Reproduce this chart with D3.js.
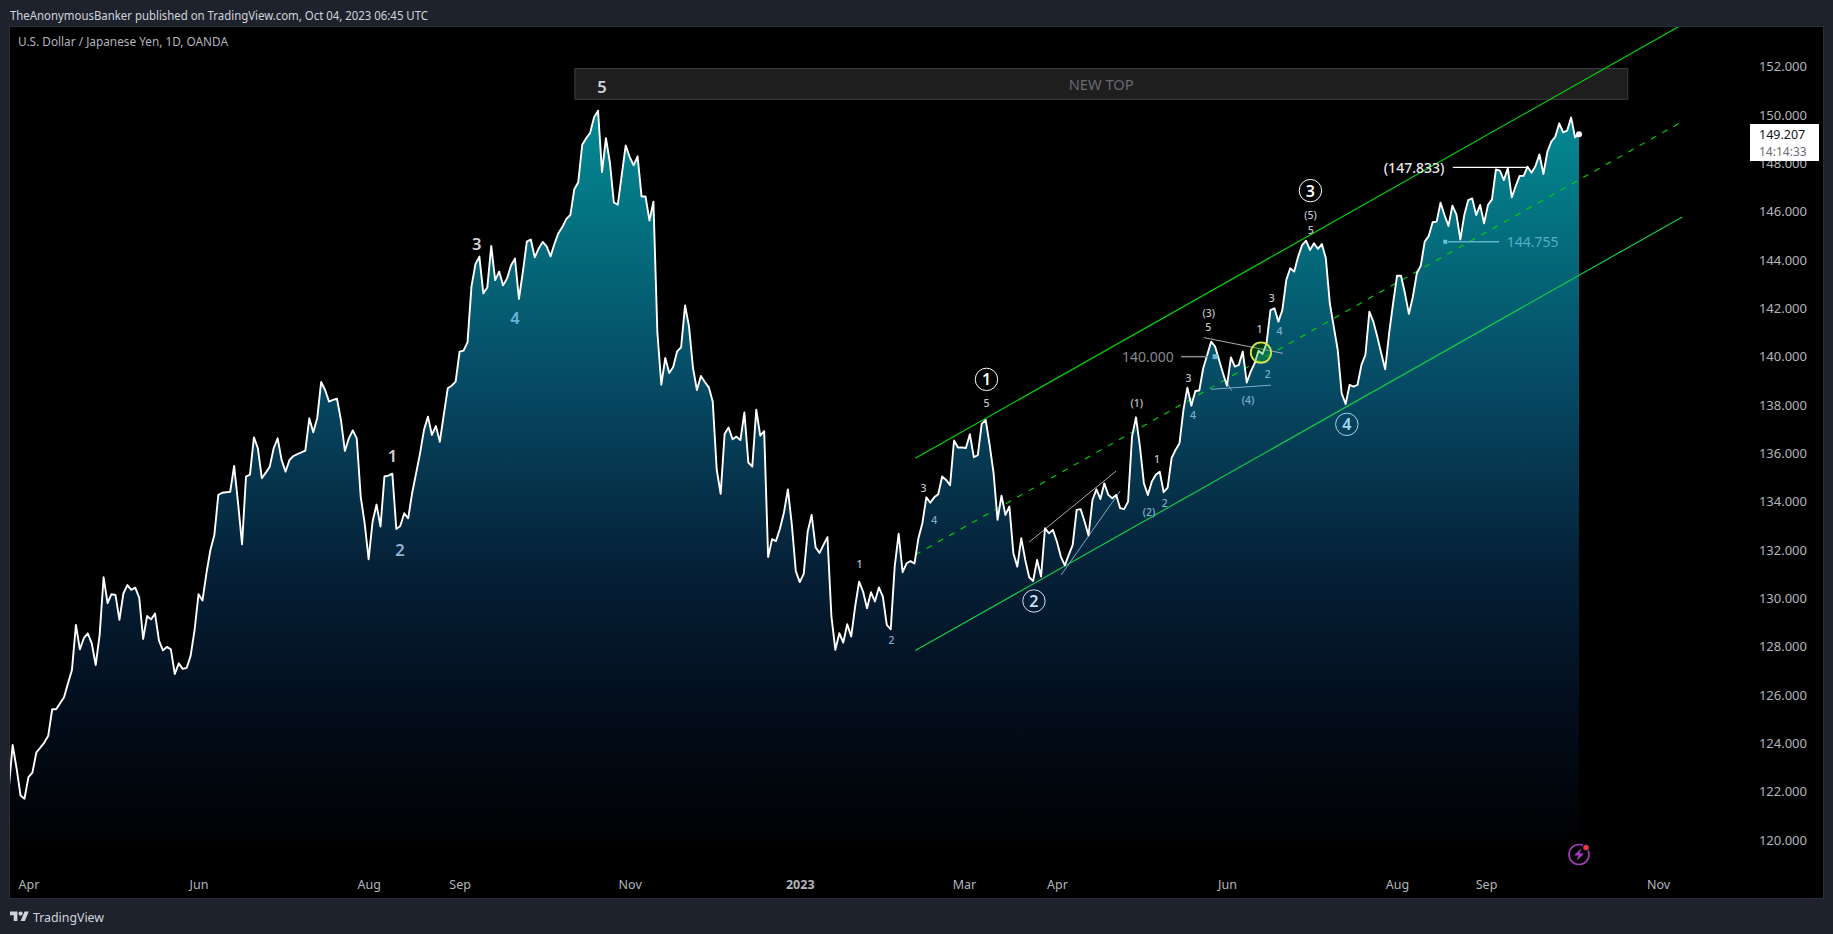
<!DOCTYPE html>
<html><head><meta charset="utf-8">
<script src="https://cdn.jsdelivr.net/npm/d3@7"></script>
<style>
html,body{margin:0;padding:0;background:#1e222d;overflow:hidden}
svg{display:block}
text{font-family:"Noto Sans",sans-serif}
</style></head><body>
<svg id="c" width="1833" height="934"></svg>
<script>
const closes=[
122.07,123.93,122.97,121.84,121.71,122.60,122.79,123.62,123.82,124.03,
124.31,125.41,125.41,125.66,125.91,126.49,127.04,128.90,127.89,128.35,
128.55,128.14,127.24,128.49,130.87,129.80,130.17,130.14,129.11,130.20,
130.55,130.35,130.44,130.03,128.32,129.27,129.13,129.37,128.25,127.85,
127.99,127.89,126.87,127.31,127.08,127.12,127.62,128.69,130.17,129.91,
131.04,132.00,132.62,134.28,134.37,134.39,134.41,135.48,133.93,132.24,
135.04,135.12,136.66,136.21,134.97,135.20,135.45,136.21,136.62,
135.73,135.24,135.73,135.89,135.97,136.04,136.11,137.45,136.87,137.45,
138.95,138.62,138.14,138.21,138.26,137.38,136.10,136.62,136.95,136.62,
134.21,133.10,131.62,133.17,133.88,132.97,135.04,135.08,135.16,132.87,
132.99,133.52,133.31,134.35,135.17,136.00,136.97,137.52,136.76,137.13,
136.48,137.59,138.69,138.80,138.97,140.21,140.25,140.59,142.90,143.83,
144.14,142.62,142.86,144.58,143.17,143.52,142.95,143.24,143.77,144.06,
142.39,143.52,144.76,144.85,144.11,144.48,
144.75,144.56,144.15,144.68,145.12,145.37,145.70,145.86,146.93,147.22,
148.77,149.04,149.26,149.91,150.18,147.64,149.04,148.03,146.38,146.29,
147.52,148.74,148.26,147.92,148.29,146.63,146.63,145.63,146.41,141.00,
138.84,139.95,139.32,139.57,140.22,140.39,142.12,141.24,139.54,138.62,
139.20,138.95,138.73,138.13,135.33,134.32,136.80,137.07,136.58,136.69,
136.55,137.69,135.62,135.45,137.81,136.73,136.92,131.71,132.45,132.37,
132.89,133.55,134.51,133.04,131.12,130.67,
131.01,132.76,133.45,132.11,131.88,132.21,132.53,129.25,127.87,128.56,
128.17,128.93,128.42,129.66,130.69,130.28,129.59,130.25,129.87,130.45,
130.07,128.90,128.72,131.31,132.67,131.08,131.45,131.54,131.44,132.49,
133.11,134.18,133.96,134.18,134.31,135.04,134.90,134.68,136.53,136.24,
136.24,136.22,136.79,135.84,135.92,137.22,137.38,136.35,135.18,133.25,
134.25,133.45,133.80,131.87,131.31,132.49,131.59,130.87,130.72,131.59,
130.90,132.90,132.69,132.83,132.35,131.73,131.36,
131.80,132.21,133.66,133.69,133.18,132.60,134.07,134.51,134.11,134.76,
134.28,134.14,134.28,133.73,133.69,134.00,136.69,137.49,136.28,134.76,
134.28,134.83,135.11,135.24,134.39,134.58,135.80,136.14,136.42,137.80,
138.72,137.97,138.58,138.60,139.52,140.07,140.62,140.42,139.86,139.31,
138.80,139.97,139.59,139.66,140.21,138.93,139.38,139.73,140.25,140.11,
140.55,141.93,142.00,141.45,141.93,143.17,143.66,143.52,144.14,144.62,
144.80,144.41,144.69,144.46,144.66,144.07,142.21,
141.24,140.28,138.48,138.04,138.83,138.76,138.83,139.66,140.07,141.86,
141.45,140.83,140.14,139.48,140.97,142.21,143.35,143.35,142.62,141.77,
142.48,143.45,143.77,144.76,144.99,145.56,145.59,146.37,145.86,145.41,
146.25,145.89,144.85,145.86,146.48,146.55,145.86,146.28,145.52,146.28,
146.51,147.75,147.70,147.31,147.79,146.59,147.06,147.48,147.48,147.86,
147.61,147.89,148.37,147.56,148.48,148.90,149.10,149.65,149.28,149.35,
149.90,149.08,149.207];

const priceTicks=[120,122,124,126,128,130,132,134,136,138,140,142,144,146,148,150,152];
const timeTickBars=[5,48,91,114,157,200,241.5,265,308,351,373.5,417];
const timeTickLabels=["Apr","Jun","Aug","Sep","Nov","2023","Mar","Apr","Jun","Aug","Sep","Nov"];

// channel: [startBar,startPrice,endBar,endPrice]
const channelUpper=[229.2,135.80,423.1,153.74];
const channelMid=[229.2,131.80,423.1,149.73];
const channelLower=[229.2,127.84,423.1,145.78];
const thinGrey=[[258.0,132.33,280.0,135.27],[302.1,140.79,322.1,140.14]];
const thinBlue=[[266.1,130.97,281.0,134.44],[304.0,138.65,319.1,138.82],[308.0,138.91,309.2,138.59]];

// wave labels: [text,bar,price]
const majorGrey=[["5",150.0,151.18],["3",118.3,144.69],["1",97.0,135.89]];
const majorBlue=[["4",128.0,141.61,"#62b6d9"],["2",98.9,132.04,"#8fb4da"]];
const minorGrey=[["1",215.1,131.42],["3",231.3,134.56],["5",247.2,138.10],["(1)",285.2,138.10],["1",290.3,135.77],
 ["3",298.3,139.11],["5",303.3,141.22],["(3)",303.4,141.80],["1",316.2,141.13],["3",319.3,142.44],["5",329.2,145.24],["(5)",329.1,145.88]];
const minorBlue=[["2",223.2,128.28],["4",234.0,133.23],["2",292.3,133.93],["(2)",288.3,133.59],["4",299.4,137.58],
 ["(4)",313.3,138.20],["2",318.3,139.28],["4",321.3,141.05]];
const circledWaves=[["1",247.2,139.06,"#ffffff"],["2",259.2,129.89,"#c6e0f6"],["3",329.1,146.87,"#ffffff"],["4",338.3,137.20,"#9fd8f2"]];
const priceNote140=[140.000,288.0,296.4,303.2,305.0];
const priceNote147=[147.833,355.3,365.1,384.2];
const priceNote144=[144.755,385.3,363.9,376.8,363.2];
const ringMark=[316.6,140.17];
const newTop=["NEW TOP",143.0,409.2,151.94,150.67,276.2,151.3];
const lastPrice=149.207, countdown="14:14:33";
const headerText="TheAnonymousBanker published on TradingView.com, Oct 04, 2023 06:45 UTC";
const symbolText="U.S. Dollar / Japanese Yen, 1D, OANDA";

const P={l:10,t:27,r:1823,b:898};
const svg=d3.select("#c");
const x=d3.scaleLinear().domain([0,closes.length-1]).range([8.67,1579]);
const y=d3.scaleLinear().domain([120,150]).range([840,115]);

const defs=svg.append("defs");
defs.append("clipPath").attr("id","pc").append("rect").attr("x",P.l).attr("y",P.t).attr("width",P.r-P.l).attr("height",P.b-P.t);
const g=defs.append("linearGradient").attr("id","ag").attr("gradientUnits","userSpaceOnUse").attr("x1",0).attr("x2",0).attr("y1",110).attr("y2",850);
[[0,"#038a94"],[.18,"#046c7c"],[.37,"#064a64"],[.62,"#052037"],[.8,"#030e1d"],[1,"#000000"]].forEach(s=>g.append("stop").attr("offset",s[0]).attr("stop-color",s[1]));

svg.append("rect").attr("width",1833).attr("height",934).attr("fill","#1e222d");
svg.append("rect").attr("x",P.l-.5).attr("y",P.t-.5).attr("width",P.r-P.l+1).attr("height",P.b-P.t+1).attr("fill","#000").attr("stroke","#2a2e39");

const plot=svg.append("g").attr("clip-path","url(#pc)");

// new top box
plot.append("rect").attr("x",x(newTop[1])+.5).attr("y",y(newTop[3])+.5).attr("width",x(newTop[2])-x(newTop[1])).attr("height",y(newTop[4])-y(newTop[3]))
 .attr("fill","#1e1e1e").attr("stroke","#3b3e47");
plot.append("text").attr("x",x(newTop[5])).attr("y",y(newTop[6])).attr("text-anchor","middle").attr("dominant-baseline","central")
 .attr("font-size",15).attr("textLength",65).attr("lengthAdjust","spacingAndGlyphs").attr("fill","#666972").text(newTop[0]);

// area and line
const area=d3.area().x((d,i)=>x(i)).y0(P.b).y1(d=>y(d));
plot.append("path").datum(closes).attr("d",area).attr("fill","url(#ag)");

function seg(s,stroke,w,dash){const l=plot.append("line").attr("x1",x(s[0])).attr("y1",y(s[1])).attr("x2",x(s[2])).attr("y2",y(s[3])).attr("stroke",stroke).attr("stroke-width",w);
 if(dash)l.attr("stroke-dasharray",dash);return l;}
seg(channelUpper,"#00d40a",1.2);
seg(channelMid,"#00d40a",1.1,"6 7");
seg(channelLower,"#12cc4a",1.2);
thinGrey.forEach(s=>seg(s,"#a8abb3",1));
thinBlue.forEach(s=>seg(s,"#7fa8c8",1));

const line=d3.line().x((d,i)=>x(i)).y(d=>y(d)).curve(d3.curveLinear);
plot.append("path").datum(closes).attr("d",line).attr("fill","none").attr("stroke","#fff").attr("stroke-width",1.9).attr("stroke-linejoin","round");

// ring
plot.append("circle").attr("cx",x(ringMark[0])).attr("cy",y(ringMark[1])).attr("r",10.2).attr("fill","rgba(20,170,40,.35)").attr("stroke","#d9e64a").attr("stroke-width",1.8);

// price notes
function label(t,b,p,size,fill,weight){return plot.append("text").attr("x",x(b)).attr("y",y(p)).attr("text-anchor","middle").attr("dominant-baseline","central")
 .attr("font-size",size).attr("fill",fill).attr("font-weight",weight||400).text(t);}
label(d3.format(".3f")(priceNote140[0]),priceNote140[1],priceNote140[0],14,"#85888f");
seg([priceNote140[2],priceNote140[0],priceNote140[3],priceNote140[0]],"#85888f",1.6);
plot.append("rect").attr("x",x(priceNote140[4])-2.5).attr("y",y(priceNote140[0])-2.5).attr("width",5).attr("height",5).attr("fill","#5bb8dc");
label("("+d3.format(".3f")(priceNote147[0])+")",priceNote147[1],priceNote147[0],14,"#e8e8e8",500);
seg([priceNote147[2],priceNote147[0],priceNote147[3],priceNote147[0]],"#ffffff",1.4);
label(d3.format(".3f")(priceNote144[0]),priceNote144[1],priceNote144[0],14,"#55aec6");
seg([priceNote144[2],priceNote144[0],priceNote144[3],priceNote144[0]],"#62b3c9",1.4);
plot.append("rect").attr("x",x(priceNote144[4])-2).attr("y",y(priceNote144[0])-2).attr("width",4).attr("height",4).attr("fill","#62c3dc");

majorGrey.forEach(d=>label(d[0],d[1],d[2],16.5,"#d0d2d9",600));
majorBlue.forEach(d=>label(d[0],d[1],d[2],16.5,d[3],600));
minorGrey.forEach(d=>label(d[0],d[1],d[2],10.5,"#c3c5cc",500));
minorBlue.forEach(d=>label(d[0],d[1],d[2],10.5,"#7cb0d2",500));
circledWaves.forEach(d=>{
 plot.append("circle").attr("cx",x(d[1])).attr("cy",y(d[2])).attr("r",11.2).attr("fill","none").attr("stroke",d[3]).attr("stroke-width",1);
 label(d[0],d[1],d[2],16,d[3],600);
});

// last point
plot.append("circle").attr("cx",x(closes.length-1)).attr("cy",y(lastPrice)).attr("r",3).attr("fill","#fff");

// axes
const ax=svg.append("g").attr("transform",`translate(1807,0)`).call(d3.axisLeft(y).tickValues(priceTicks).tickFormat(d3.format(".3f")).tickSize(0).tickPadding(0));
ax.select(".domain").remove();
ax.selectAll("text").attr("font-size",13).attr("fill","#b2b5be").style("font-family",'"Noto Sans",sans-serif');
const tx=svg.append("g").attr("transform",`translate(0,880)`).call(d3.axisBottom(x).tickValues(timeTickBars).tickFormat((d,i)=>timeTickLabels[i]).tickSize(0).tickPadding(0));
tx.select(".domain").remove();
tx.selectAll("text").attr("font-size",12.5).attr("fill","#b2b5be").style("font-family",'"Noto Sans",sans-serif')
 .attr("font-weight",(d,i)=>timeTickLabels[i]==="2023"?700:400);

// price label
svg.append("rect").attr("x",1750).attr("y",124).attr("width",69).attr("height",37).attr("fill","#fff");
svg.append("text").attr("x",1759).attr("y",134).attr("dominant-baseline","central").attr("font-size",12.5).attr("fill","#131722").text(d3.format(".3f")(lastPrice));
svg.append("text").attr("x",1759).attr("y",151).attr("dominant-baseline","central").attr("font-size",12).attr("fill","#6a6d78").text(countdown);

// header
svg.append("text").attr("x",10).attr("y",15).attr("dominant-baseline","central").attr("font-size",12.5).attr("textLength",418).attr("lengthAdjust","spacingAndGlyphs").attr("fill","#d1d4dc").text(headerText);
svg.append("text").attr("x",18).attr("y",41.5).attr("dominant-baseline","central").attr("font-size",12.5).attr("textLength",210).attr("lengthAdjust","spacingAndGlyphs").attr("fill","#b2b5be").text(symbolText);

// lightning badge
const bx=x(closes.length-1),by=y(119.4);
const bd=svg.append("g").attr("transform",`translate(${bx},${by})`);
bd.append("circle").attr("r",10).attr("fill","#000").attr("stroke","#9c3fb5").attr("stroke-width",1.6);
bd.append("path").attr("d","M2.5-6.5 L-5 1 H-0.5 L-2.5 6.5 L5-1 H0.5 Z").attr("fill","#a53fc2");
bd.append("circle").attr("cx",7).attr("cy",-7).attr("r",3.6).attr("fill","#131722");
bd.append("circle").attr("cx",7).attr("cy",-7).attr("r",2.6).attr("fill","#f23645");

// footer
const lg=svg.append("g").attr("transform","translate(10,911.5) scale(.53)").attr("fill","#d1d4dc");
lg.append("path").attr("d","M14 18H7V7H0V0h14v18zM28 18h-8l7.5-18h8L28 18z");
lg.append("circle").attr("cx",20).attr("cy",4).attr("r",4);
svg.append("text").attr("x",33).attr("y",917).attr("dominant-baseline","central").attr("font-size",13).attr("textLength",71).attr("lengthAdjust","spacingAndGlyphs").attr("fill","#d1d4dc").text("TradingView");
</script>
</body></html>
